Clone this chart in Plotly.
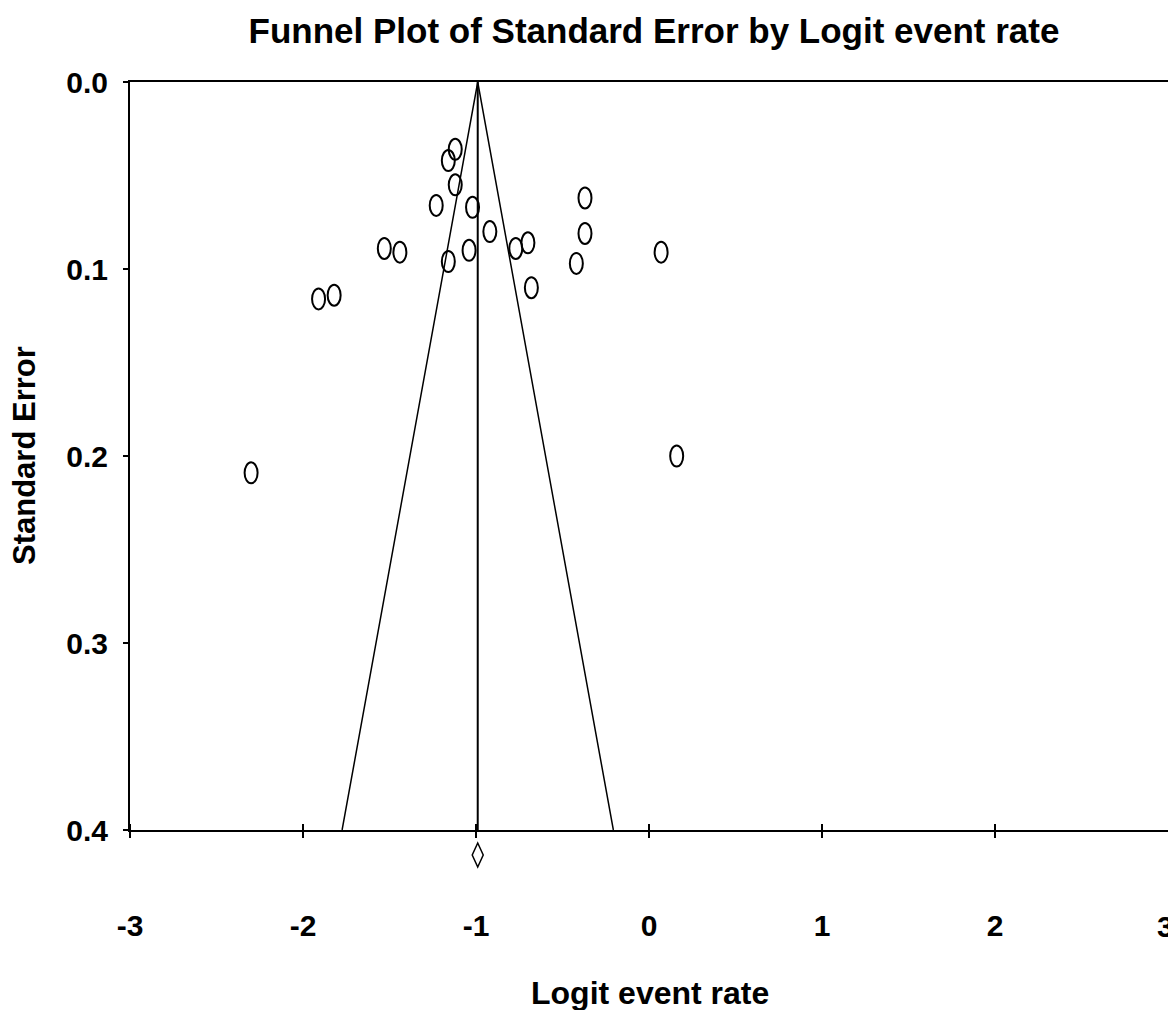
import plotly.graph_objects as go

# Study data: logit event rate and standard error
logit_rate = [-1.12, -1.16, -1.12, -1.23, -1.02, -0.92, -0.37, -0.37, -0.70, -0.77,
              -1.53, -1.44, -1.04, -1.16, -0.42, 0.07, -0.68, -1.82, -1.91, -2.30, 0.16]
std_err = [0.036, 0.042, 0.055, 0.066, 0.067, 0.080, 0.062, 0.081, 0.086, 0.089,
           0.089, 0.091, 0.090, 0.096, 0.097, 0.091, 0.110, 0.114, 0.116, 0.209, 0.200]
pooled = -0.99
se_max = 0.4
z = 1.96

x_ticks = [-3, -2, -1, 0, 1, 2]
x_last_tick = 3
y_ticks = [0.0, 0.1, 0.2, 0.3, 0.4]

FONT = "Liberation Sans, Arial, Helvetica, sans-serif"

# The page body adds an 8px margin, so the figure is sized to fit the window.
W, H = 1168, 1002
L, R, T, B = 122, 8, 74, 180
plot_w = W - L - R
plot_h = H - T - B

fig = go.Figure()

# Funnel (pseudo 95% limits)
fig.add_trace(go.Scatter(
    x=[pooled - z * se_max, pooled, pooled + z * se_max],
    y=[se_max, 0, se_max],
    mode="lines", line=dict(color="black", width=1.5),
    hoverinfo="skip", showlegend=False))
# Vertical pooled-estimate line
fig.add_trace(go.Scatter(
    x=[pooled, pooled], y=[0, se_max],
    mode="lines", line=dict(color="black", width=2),
    hoverinfo="skip", showlegend=False))

shapes = []
# Study points as open ellipses
for xv, yv in zip(logit_rate, std_err):
    shapes.append(dict(type="circle", xref="x", yref="y",
                       xsizemode="pixel", ysizemode="pixel",
                       xanchor=xv, yanchor=yv,
                       x0=-6.5, x1=6.5, y0=-10.5, y1=10.5,
                       line=dict(color="black", width=2),
                       fillcolor="rgba(0,0,0,0)"))
# Pooled diamond below axis
shapes.append(dict(type="path", xref="x", yref="paper",
                   xsizemode="pixel", ysizemode="pixel",
                   xanchor=pooled, yanchor=-25 / plot_h,
                   path="M 0 12 L 5.5 0 L 0 -12 L -5.5 0 Z",
                   line=dict(color="black", width=1.5),
                   fillcolor="white"))

fig.update_layout(
    width=W, height=H,
    margin=dict(l=L, r=R, t=T, b=B, autoexpand=False),
    paper_bgcolor="white", plot_bgcolor="white",
    showlegend=False,
    shapes=shapes,
    title=dict(text="<b>Funnel Plot of Standard Error by Logit event rate</b>",
               x=646 / W, xanchor="center", y=1 - 23 / H, yanchor="middle",
               font=dict(family=FONT, size=35, color="black")),
    font=dict(family=FONT, color="black"),
    annotations=[
        dict(text="<b>Logit event rate</b>", xref="paper", yref="paper",
             x=0.501, y=-163 / plot_h, xanchor="center", yanchor="middle",
             showarrow=False, font=dict(family=FONT, size=32, color="black")),
        dict(text="<b>Standard Error</b>", xref="paper", yref="paper",
             x=-106 / plot_w, y=0.5, xanchor="center", yanchor="middle",
             textangle=-90, showarrow=False,
             font=dict(family=FONT, size=31, color="black")),
        # last x tick label sits at the right edge of the window
        dict(text="<b>%d</b>" % x_last_tick, xref="paper", yref="paper",
             x=1 + R / plot_w, y=-96 / plot_h, xanchor="right", yanchor="middle",
             showarrow=False, font=dict(family=FONT, size=30, color="black")),
    ],
)

fig.update_xaxes(
    range=[-3, 3], tickvals=x_ticks, ticktext=[str(v) for v in x_ticks],
    showgrid=False, zeroline=False, automargin=False,
    showline=True, linecolor="black", linewidth=2, mirror=True,
    ticks="outside", ticklen=6, tickwidth=1.5, tickcolor="black",
    minor=dict(tickvals=x_ticks, ticks="inside", ticklen=6, tickwidth=1.5, tickcolor="black"),
    tickfont=dict(family=FONT, size=30, color="black", weight="bold"),
    ticklabelstandoff=62,
)
fig.update_yaxes(
    range=[0.4, 0], tickvals=y_ticks, tickformat=".1f",
    showgrid=False, zeroline=False, automargin=False,
    showline=True, linecolor="black", linewidth=2, mirror=True,
    ticks="outside", ticklen=5, tickwidth=1.5, tickcolor="black",
    tickfont=dict(family=FONT, size=30, color="black", weight="bold"),
    ticklabelstandoff=9,
)

fig.write_html("out.html")
